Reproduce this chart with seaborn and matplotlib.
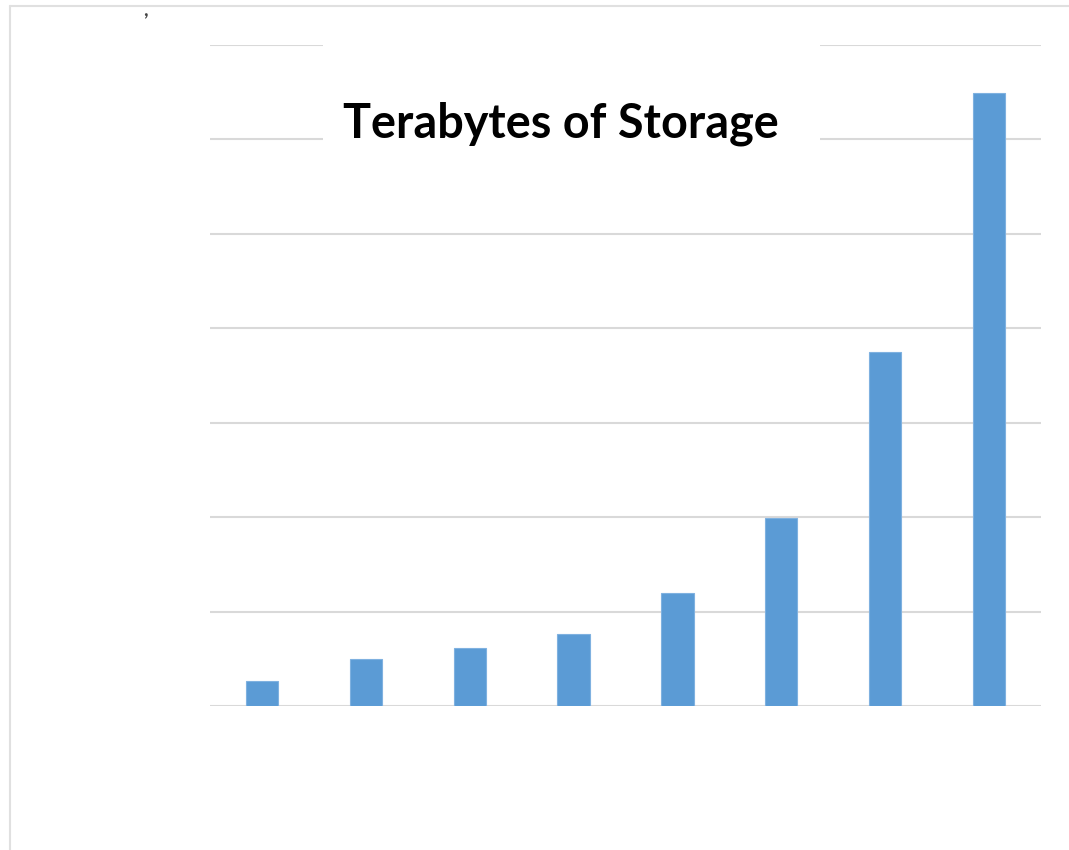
import matplotlib
matplotlib.use("Agg")
import matplotlib.pyplot as plt
import seaborn as sns
import pandas as pd
from matplotlib.lines import Line2D
from matplotlib.patches import Rectangle

# bar heights, in gridline units
categories = ["1", "2", "3", "4", "5", "6", "7", "8"]
storage = [0.26, 0.50, 0.61, 0.76, 1.20, 1.99, 3.75, 6.49]
title = "Terabytes of Storage"

df = pd.DataFrame({"category": categories, "storage": storage})

sns.set_theme(style="white")
plt.rcParams["font.family"] = ["Lato", "DejaVu Sans"]

W, H = 1069, 850
fig = plt.figure(figsize=(W / 100, H / 100), dpi=100)
ax = fig.add_axes([210 / W, 1 - 706 / H, 831 / W, 661 / H])

sns.barplot(data=df, x="category", y="storage", color="#5B9BD5",
            width=0.31, edgecolor="#7FB1E0", linewidth=0.8,
            saturation=1, ax=ax, zorder=3)

ax.set_ylim(0, 7)
ax.set_yticks(range(0, 8))
ax.yaxis.grid(True, color="#D9D9D9", linewidth=1.5, zorder=0)
ax.set_axisbelow(True)
ax.set_xlabel("")
ax.set_ylabel("")
ax.set_xticklabels([])
ax.set_yticklabels([])
ax.tick_params(length=0)
for s in ax.spines.values():
    s.set_visible(False)

# white box behind the title that cuts the top gridlines
fig.patches.append(Rectangle((323 / W, 1 - 160 / H), 497 / W, 140 / H,
                             transform=fig.transFigure, facecolor="white",
                             edgecolor="none", zorder=5))
fig.text(560.5 / W, 1 - 137 / H, title, ha="center", va="baseline",
         fontsize=33.7, fontweight="bold", color="black", zorder=6)

# thin frame on the left and top of the picture
fig.lines.append(Line2D([10 / W, 10 / W], [0, 1 - 6 / H], transform=fig.transFigure,
                        color="#E0E0E0", linewidth=1.5))
fig.lines.append(Line2D([10 / W, 1], [1 - 6 / H, 1 - 6 / H], transform=fig.transFigure,
                        color="#E0E0E0", linewidth=1.5))
fig.text(143 / W, 1 - 16 / H, ",", color="#444444", fontsize=14, fontweight="bold")

fig.savefig("out.png", dpi=100, facecolor="white")
